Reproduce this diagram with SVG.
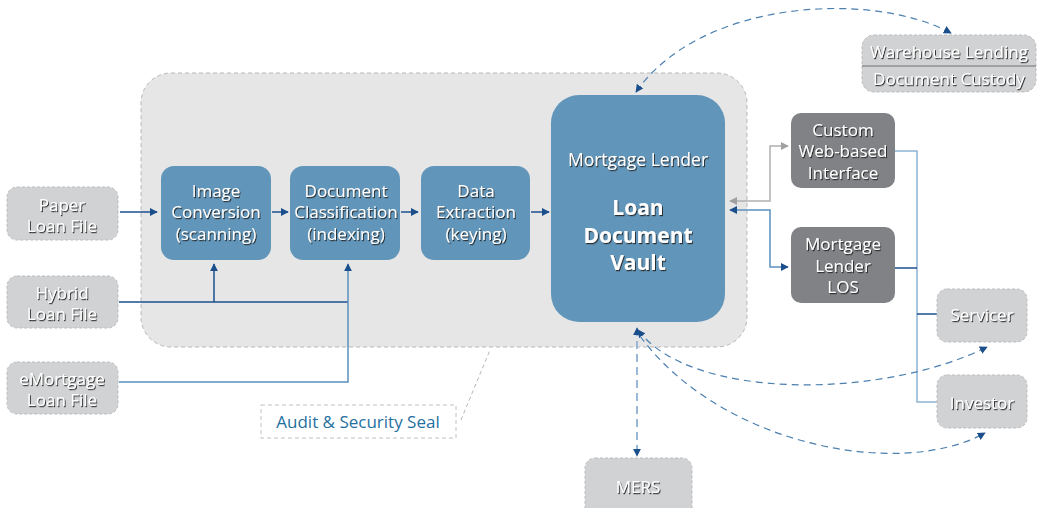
<svg xmlns="http://www.w3.org/2000/svg" width="1038" height="508" viewBox="0 0 1038 508">
<defs>
<filter id="sh" x="-10%" y="-10%" width="130%" height="140%">
<feDropShadow dx="1" dy="1.2" stdDeviation="0.4" flood-color="#222" flood-opacity="0.9"/>
</filter>
<marker id="ab" viewBox="0 0 10 10" refX="9" refY="5" markerWidth="8" markerHeight="8" markerUnits="userSpaceOnUse" orient="auto-start-reverse"><path d="M0,0 L10,5 L0,10 z" fill="#1b4f8c"/></marker>
<marker id="ag" viewBox="0 0 10 10" refX="9" refY="5" markerWidth="8" markerHeight="8" markerUnits="userSpaceOnUse" orient="auto-start-reverse"><path d="M0,0 L10,5 L0,10 z" fill="#a0a0a0"/></marker>
</defs>
<style>
.t{font-family:"Open Sans",Lato,sans-serif;font-size:17px;fill:#fff;text-anchor:middle;filter:url(#sh)}
.big{font-size:21px;font-weight:bold}
.ml{font-size:17.5px}
.blue{fill:#6195b9}
.gray{fill:#d1d2d4;stroke:#bdbdbf;stroke-dasharray:3 2;stroke-width:1}
.dark{fill:#808285}
.c{fill:none;stroke:#1b4f8c;stroke-width:1.5}
.cl{fill:none;stroke:#5b8fc0;stroke-width:1.5}
.cb{fill:none;stroke:#8fb3d4;stroke-width:1.5}
.dash{fill:none;stroke:#4a7fb0;stroke-width:1.2;stroke-dasharray:7 5}
</style>
<rect id="container" x="141" y="73" width="606" height="274" rx="30" fill="#e6e6e6" stroke="#b8b8b8" stroke-dasharray="4 3"/>

<g id="connectors">
<line class="c" x1="120" y1="212" x2="157" y2="212" marker-end="url(#ab)"/>
<line class="c" x1="272" y1="212" x2="288" y2="212" marker-end="url(#ab)"/>
<line class="c" x1="401" y1="212" x2="418" y2="212" marker-end="url(#ab)"/>
<line class="c" x1="531" y1="212" x2="549" y2="212" marker-end="url(#ab)"/>
<polyline class="c" points="119,302 348,302"/>
<line class="c" x1="214" y1="302" x2="214" y2="264" marker-end="url(#ab)"/>
<polyline class="cl" points="119,382 348,382 348,264" marker-end="url(#ab)"/>
<polyline fill="none" stroke="#b0b0b0" stroke-width="1.5" points="730,201 770,201 770,146 788,146" marker-start="url(#ag)" marker-end="url(#ag)"/>
<polyline class="cl" points="730,210 770,210 770,267 788,267" marker-start="url(#ab)" marker-end="url(#ab)"/>
<polyline class="cb" points="895,151 917,151 917,402 937,402"/>
<line class="c" x1="895" y1="268" x2="917" y2="268"/>
<line class="c" x1="917" y1="314" x2="937" y2="314"/>
<path class="dash" d="M636,92 C700,0 870,-10 951,33" marker-start="url(#ab)" marker-end="url(#ab)"/>
<path class="dash" d="M638,330 C690,400 880,400 987,347" marker-start="url(#ab)" marker-end="url(#ab)"/>
<path class="dash" d="M640,336 C720,445 900,480 985,433" marker-end="url(#ab)"/>
<line x1="637" y1="328" x2="637" y2="456" stroke="#9ab8d6" stroke-width="2" stroke-dasharray="8 5" marker-start="url(#ab)" marker-end="url(#ab)"/>
<line x1="461" y1="420" x2="490" y2="350" stroke="#b8b8b8" stroke-dasharray="4 3"/>
</g>

<g id="paper"><rect class="gray" x="7" y="187" width="111" height="53" rx="10"/><text class="t" x="62" y="211">Paper</text><text class="t" x="62" y="232">Loan File</text></g>
<g id="hybrid"><rect class="gray" x="7" y="276" width="111" height="52" rx="10"/><text class="t" x="62" y="299">Hybrid</text><text class="t" x="62" y="320">Loan File</text></g>
<g id="emortgage"><rect class="gray" x="7" y="362" width="111" height="52" rx="10"/><text class="t" x="62" y="385">eMortgage</text><text class="t" x="62" y="406">Loan File</text></g>

<g id="image"><rect class="blue" x="161" y="166" width="110" height="94" rx="13"/><text class="t" x="216" y="197">Image</text><text class="t" x="216" y="218">Conversion</text><text class="t" x="216" y="240">(scanning)</text></g>
<g id="classification"><rect class="blue" x="290" y="166" width="110" height="94" rx="13"/><text class="t" x="346" y="197">Document</text><text class="t" x="346" y="218">Classification</text><text class="t" x="346" y="240">(indexing)</text></g>
<g id="extraction"><rect class="blue" x="421" y="166" width="109" height="94" rx="13"/><text class="t" x="476" y="197">Data</text><text class="t" x="476" y="218">Extraction</text><text class="t" x="476" y="240">(keying)</text></g>
<g id="vault"><rect class="blue" x="551" y="95" width="174" height="227" rx="28"/><text class="t ml" x="638" y="166">Mortgage Lender</text><text class="t big" x="638" y="215">Loan</text><text class="t big" x="638" y="243">Document</text><text class="t big" x="638" y="270">Vault</text></g>

<g id="warehouse"><rect class="gray" x="862" y="35" width="174" height="57" rx="12"/><line x1="862" y1="66" x2="1036" y2="66" stroke="#707070" stroke-width="1.2"/><text class="t" x="949" y="58">Warehouse Lending</text><text class="t" x="949" y="85">Document Custody</text></g>
<g id="custom"><rect class="dark" x="791" y="113" width="104" height="75" rx="10"/><text class="t" x="843" y="136">Custom</text><text class="t" x="843" y="157">Web-based</text><text class="t" x="843" y="179">Interface</text></g>
<g id="los"><rect class="dark" x="791" y="227" width="104" height="76" rx="10"/><text class="t" x="843" y="250">Mortgage</text><text class="t" x="843" y="272">Lender</text><text class="t" x="843" y="293">LOS</text></g>
<g id="servicer"><rect class="gray" x="937" y="289" width="90" height="53" rx="10"/><text class="t" x="982" y="321">Servicer</text></g>
<g id="investor"><rect class="gray" x="937" y="375" width="90" height="53" rx="10"/><text class="t" x="982" y="409">Investor</text></g>
<g id="mers"><rect class="gray" x="585" y="458" width="107" height="60" rx="10"/><text class="t" x="638" y="493">MERS</text></g>
<g id="audit"><rect x="261" y="405" width="195" height="33" fill="#fff" stroke="#c0c0c0" stroke-dasharray="4 3"/><text x="358" y="428" font-family="'Open Sans',Lato,sans-serif" font-size="17" fill="#1f6fa0" text-anchor="middle">Audit &amp; Security Seal</text></g>
</svg>
